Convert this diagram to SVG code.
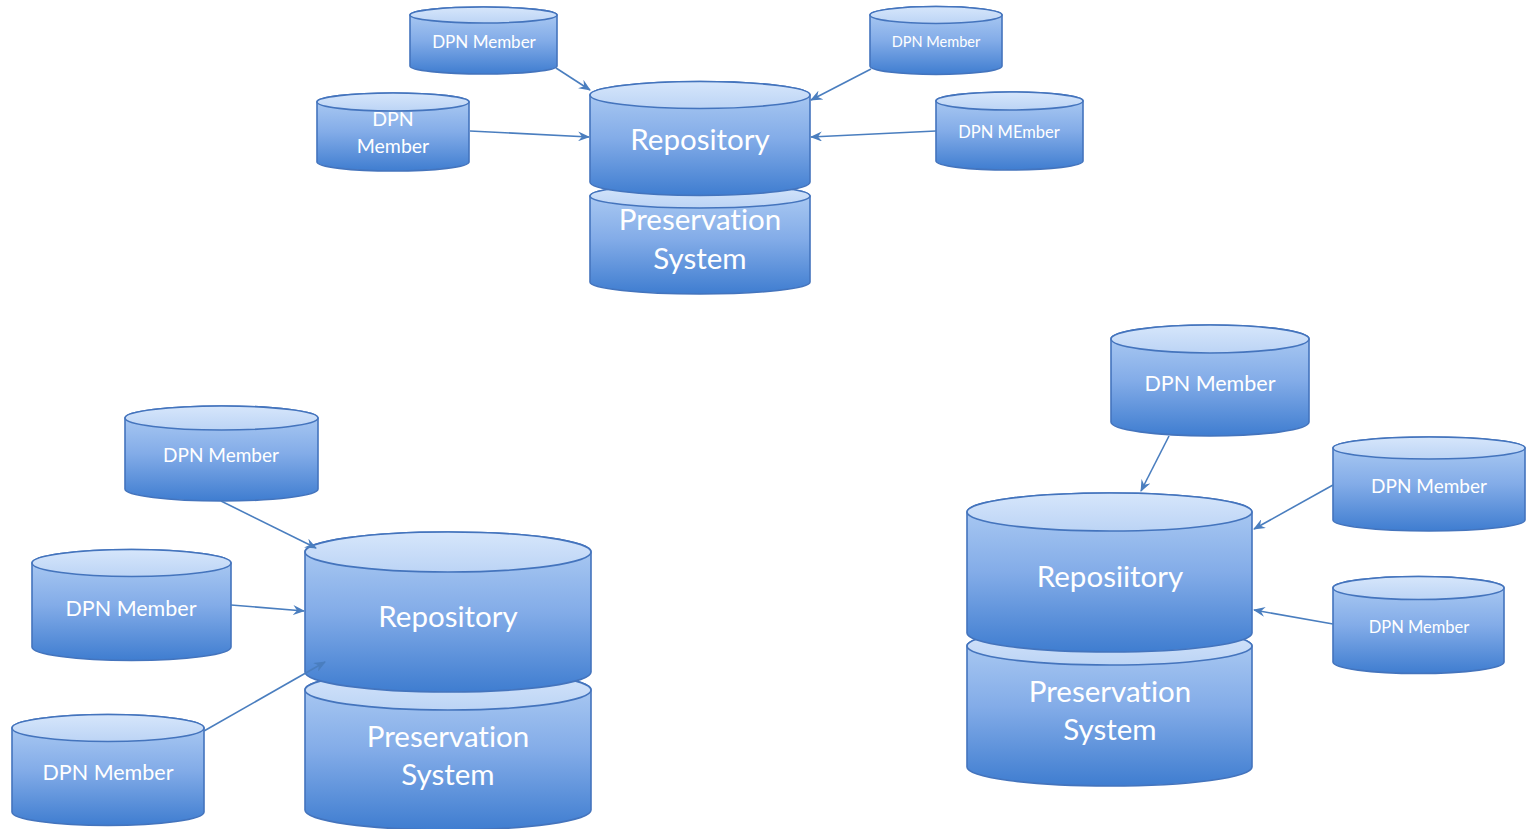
<svg xmlns="http://www.w3.org/2000/svg" width="1528" height="829" viewBox="0 0 1528 829">
<defs>
<linearGradient id="body" x1="0" y1="0" x2="0" y2="1">
<stop offset="0" stop-color="#b2cff4"/>
<stop offset="0.5" stop-color="#83ace8"/>
<stop offset="1" stop-color="#3f7dd0"/>
</linearGradient>
<linearGradient id="cap" x1="0" y1="0" x2="0" y2="1">
<stop offset="0" stop-color="#d6e6fb"/>
<stop offset="1" stop-color="#bcd4f5"/>
</linearGradient>
<marker id="ah" markerUnits="userSpaceOnUse" markerWidth="12" markerHeight="10" refX="11" refY="5" orient="auto" viewBox="0 0 12 10">
<path d="M0,0 L12,5 L0,10 L4,5 Z" fill="#4a7ebf"/>
</marker>
</defs>
<style>
.b{fill:url(#body);stroke:#4474bd;stroke-width:1.6}
.c{fill:url(#cap);stroke:#4474bd;stroke-width:1.6}
.t{fill:#ffffff;font-family:Lato,"Open Sans",sans-serif;text-anchor:middle;font-variant-ligatures:none}
.e{fill:none;stroke:#4a7ebf;stroke-width:1.6;marker-end:url(#ah)}
</style>

<!-- top cluster -->
<g id="pres1">
<path class="b" d="M590,196 A110,12 0 0 1 810,196 L810,282 A110,12 0 0 1 590,282 Z"/>
<ellipse class="c" cx="700" cy="196" rx="110" ry="12"/>
<text class="t" x="700" y="230" font-size="29.5">Preservation</text>
<text class="t" x="700" y="269" font-size="29.5">System</text>
</g>
<g id="rep1">
<path class="b" d="M590,95 A110,13.5 0 0 1 810,95 L810,182 A110,13.5 0 0 1 590,182 Z"/>
<ellipse class="c" cx="700" cy="95" rx="110" ry="13.5"/>
<text class="t" x="700" y="150" font-size="29.5">Repository</text>
</g>
<g id="memA">
<path class="b" d="M410,15 A73.5,8 0 0 1 557,15 L557,66 A73.5,8 0 0 1 410,66 Z"/>
<ellipse class="c" cx="483.5" cy="15" rx="73.5" ry="8"/>
<text class="t" x="484" y="48" font-size="17">DPN Member</text>
</g>
<g id="memB">
<path class="b" d="M317,102 A76,9 0 0 1 469,102 L469,162 A76,9 0 0 1 317,162 Z"/>
<ellipse class="c" cx="393" cy="102" rx="76" ry="9"/>
<text class="t" x="393" y="126" font-size="19.5">DPN</text>
<text class="t" x="393" y="153" font-size="19.5">Member</text>
</g>
<g id="memC">
<path class="b" d="M870,15 A66,8.5 0 0 1 1002,15 L1002,66 A66,8.5 0 0 1 870,66 Z"/>
<ellipse class="c" cx="936" cy="15" rx="66" ry="8.5"/>
<text class="t" x="936" y="47" font-size="14.5">DPN Member</text>
</g>
<g id="memD">
<path class="b" d="M936,101 A73.5,9 0 0 1 1083,101 L1083,161 A73.5,9 0 0 1 936,161 Z"/>
<ellipse class="c" cx="1009.5" cy="101" rx="73.5" ry="9"/>
<text class="t" x="1009" y="138" font-size="16.5">DPN MEmber</text>
</g>

<!-- bottom-left cluster -->
<g id="pres2">
<path class="b" d="M305,690 A143,20 0 0 1 591,690 L591,810 A143,20 0 0 1 305,810 Z"/>
<ellipse class="c" cx="448" cy="690" rx="143" ry="20"/>
<text class="t" x="448" y="747" font-size="29.5">Preservation</text>
<text class="t" x="448" y="785" font-size="29.5">System</text>
</g>
<g id="rep2">
<path class="b" d="M305,552 A143,20 0 0 1 591,552 L591,672 A143,20 0 0 1 305,672 Z"/>
<ellipse class="c" cx="448" cy="552" rx="143" ry="20"/>
<text class="t" x="448" y="627" font-size="29.5">Repository</text>
</g>
<g id="memE">
<path class="b" d="M125,418 A96.5,12 0 0 1 318,418 L318,489 A96.5,12 0 0 1 125,489 Z"/>
<ellipse class="c" cx="221.5" cy="418" rx="96.5" ry="12"/>
<text class="t" x="221" y="462" font-size="19">DPN Member</text>
</g>
<g id="memF">
<path class="b" d="M32,563 A99.5,13.5 0 0 1 231,563 L231,647 A99.5,13.5 0 0 1 32,647 Z"/>
<ellipse class="c" cx="131.5" cy="563" rx="99.5" ry="13.5"/>
<text class="t" x="131" y="616" font-size="21.5">DPN Member</text>
</g>
<g id="memG">
<path class="b" d="M12,728 A96,13.5 0 0 1 204,728 L204,812 A96,13.5 0 0 1 12,812 Z"/>
<ellipse class="c" cx="108" cy="728" rx="96" ry="13.5"/>
<text class="t" x="108" y="780" font-size="21.5">DPN Member</text>
</g>

<!-- right cluster -->
<g id="pres3">
<path class="b" d="M967,646 A142.5,19 0 0 1 1252,646 L1252,767 A142.5,19 0 0 1 967,767 Z"/>
<ellipse class="c" cx="1109.5" cy="646" rx="142.5" ry="19"/>
<text class="t" x="1110" y="702" font-size="29.5">Preservation</text>
<text class="t" x="1110" y="740" font-size="29.5">System</text>
</g>
<g id="rep3">
<path class="b" d="M967,512 A142.5,19 0 0 1 1252,512 L1252,633 A142.5,19 0 0 1 967,633 Z"/>
<ellipse class="c" cx="1109.5" cy="512" rx="142.5" ry="19"/>
<text class="t" x="1110" y="587" font-size="29.5">Reposiitory</text>
</g>
<g id="memH">
<path class="b" d="M1111,339 A99,14 0 0 1 1309,339 L1309,422 A99,14 0 0 1 1111,422 Z"/>
<ellipse class="c" cx="1210" cy="339" rx="99" ry="14"/>
<text class="t" x="1210" y="391" font-size="21.5">DPN Member</text>
</g>
<g id="memI">
<path class="b" d="M1333,448 A96,11 0 0 1 1525,448 L1525,520 A96,11 0 0 1 1333,520 Z"/>
<ellipse class="c" cx="1429" cy="448" rx="96" ry="11"/>
<text class="t" x="1429" y="493" font-size="19">DPN Member</text>
</g>
<g id="memJ">
<path class="b" d="M1333,588 A85.5,11.5 0 0 1 1504,588 L1504,662 A85.5,11.5 0 0 1 1333,662 Z"/>
<ellipse class="c" cx="1418.5" cy="588" rx="85.5" ry="11.5"/>
<text class="t" x="1419" y="633" font-size="16.5">DPN Member</text>
</g>

<g id="connectors">
<line class="e" x1="556" y1="68" x2="590" y2="90"/>
<line class="e" x1="470" y1="131" x2="589" y2="137"/>
<line class="e" x1="871" y1="69" x2="811" y2="100"/>
<line class="e" x1="936" y1="131" x2="811" y2="137"/>
<line class="e" x1="221" y1="501" x2="316" y2="548"/>
<line class="e" x1="231" y1="605" x2="304" y2="611"/>
<line class="e" x1="204" y1="731" x2="325" y2="662"/>
<line class="e" x1="1169" y1="436" x2="1141" y2="491"/>
<line class="e" x1="1333" y1="485" x2="1254" y2="529"/>
<line class="e" x1="1333" y1="624" x2="1254" y2="610"/>
</g>
</svg>
